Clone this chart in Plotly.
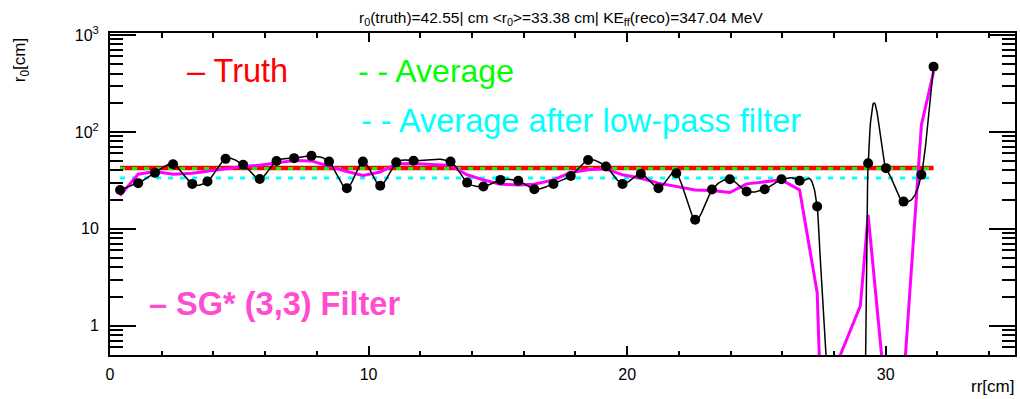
import numpy as np
import plotly.graph_objects as go

# ---------------- data ----------------
rr = [0.39, 1.09, 1.74, 2.44, 3.18, 3.77, 4.47, 5.15, 5.79, 6.44, 7.12, 7.79,
      8.47, 9.16, 9.78, 10.45, 11.07, 11.74, 13.17, 13.81, 14.44, 15.10, 15.79,
      16.41, 17.15, 17.82, 18.49, 19.18, 19.82, 20.53, 21.21, 21.90, 22.63,
      23.28, 23.97, 24.62, 25.32, 25.97, 26.67, 27.35, 27.64, 27.99, 29.02,
      29.32, 30.01, 30.69, 31.38, 31.85]
r0 = [25.2, 29.6, 37.8, 46.4, 29.1, 30.8, 52.7, 45.7, 32.7, 50.2, 53.6, 56.6,
      49.4, 26.3, 49.4, 27.9, 48.5, 50.3, 49.4, 30.0, 27.3, 32.0, 31.3,
      25.6, 29.1, 35.1, 51.4, 43.9, 29.1, 36.9, 26.3, 37.5, 12.4,
      25.5, 32.5, 24.3, 25.6, 32.5, 31.3, 17.0, 0.3, 0.01, 0.00004,
      47.5, 42.3, 19.1, 36.1, 471.0]
r0_sg = [22.0, 36.6, 39.0, 36.5, 37.5, 39.6, 41.6, 43.9, 45.2, 47.9, 50.8, 50.2,
         44.1, 39.0, 35.6, 38.5, 46.8, 47.3, 45.0, 36.1, 32.0, 28.9, 28.4,
         28.9, 32.0, 38.2, 40.8, 41.6, 36.1, 33.3, 29.6, 27.3, 25.2,
         24.8, 23.7, 29.1, 30.5, 32.0, 25.2, 2.19, 0.01, 0.34, 1.61,
         13.9, 0.17, 0.26, 118.0, 416.0]

R0_TRUTH = 42.55
R0_AVG = 42.0
R0_AVG_LP = 33.38
KE_RECO = 347.04

x_ticks = [0, 10, 20, 30]
x_minor = [2, 4, 6, 8, 12, 14, 16, 18, 22, 24, 26, 28, 32, 34]
y_ticks = [1, 10, 100, 1000]
y_ticktext = ["1", "10", "10<sup>2</sup>", "10<sup>3</sup>"]
y_minor = [0.5, 0.6, 0.7, 0.8, 0.9] + [m * 10 ** d for d in range(0, 3) for m in range(2, 10)]


# smooth curve through the points (cubic Hermite / Catmull-Rom in x, log10(y))
def smooth_curve(xs, ys, n=30):
    x = np.asarray(xs, float)
    y = np.log10(np.asarray(ys, float))
    m = np.empty_like(y)
    m[1:-1] = (y[2:] - y[:-2]) / (x[2:] - x[:-2])
    m[0] = (y[1] - y[0]) / (x[1] - x[0])
    m[-1] = (y[-1] - y[-2]) / (x[-1] - x[-2])
    cx, cy = [], []
    for i in range(len(x) - 1):
        h = x[i + 1] - x[i]
        t = np.linspace(0, 1, n, endpoint=False)
        h00 = 2 * t**3 - 3 * t**2 + 1
        h10 = t**3 - 2 * t**2 + t
        h01 = -2 * t**3 + 3 * t**2
        h11 = t**3 - t**2
        yy = h00 * y[i] + h10 * h * m[i] + h01 * y[i + 1] + h11 * h * m[i + 1]
        cx.extend(x[i] + t * h)
        cy.extend(10 ** yy)
    cx.append(x[-1])
    cy.append(10 ** y[-1])
    return cx, cy


# ---------------- layout helpers ----------------
L, R, T, B = 110, 1017, 33, 355
W, H = 1020, 399
def px(x):
    return (x - L) / (R - L)
def py(y):
    return (B - y) / (B - T)

FONT = "Liberation Sans, Arial, Helvetica, sans-serif"

fig = go.Figure()

seg_x = [rr[0], rr[-1]]
fig.add_trace(go.Scatter(x=seg_x, y=[R0_TRUTH] * 2, mode="lines",
                         line=dict(color="#ff0000", width=4.5), hoverinfo="skip"))
fig.add_trace(go.Scatter(x=seg_x, y=[R0_AVG] * 2, mode="lines",
                         line=dict(color="#00ff00", width=3, dash="5px,7px"), hoverinfo="skip"))
fig.add_trace(go.Scatter(x=seg_x, y=[R0_AVG_LP] * 2, mode="lines",
                         line=dict(color="#00ffff", width=3, dash="5px,7px"), hoverinfo="skip"))
fig.add_trace(go.Scatter(x=rr, y=r0_sg, mode="lines",
                         line=dict(color="#ff00ff", width=3)))
cx, cy = smooth_curve(rr, r0)
fig.add_trace(go.Scatter(x=cx, y=cy, mode="lines",
                         line=dict(color="black", width=1.5), hoverinfo="skip"))
fig.add_trace(go.Scatter(x=rr, y=r0, mode="markers",
                         marker=dict(color="black", size=10)))

annotations = [
    dict(text="r<sub>0</sub>(truth)=%.2f| cm &lt;r<sub>0</sub>&gt;=%.2f cm| KE<sub>ff</sub>(reco)=%.2f MeV"
         % (R0_TRUTH, R0_AVG_LP, KE_RECO),
         x=px(562), y=py(18), xanchor="center", yanchor="middle",
         font=dict(size=15.5, color="black")),
    dict(text="r<sub>0</sub>[cm]", textangle=-90, x=px(21), y=py(60),
         xanchor="center", yanchor="middle", font=dict(size=17, color="black")),
    dict(text="rr[cm]", x=px(1018), y=py(386), xanchor="right", yanchor="middle",
         font=dict(size=17, color="black")),
    dict(text="– Truth", x=px(185), y=py(71), xanchor="left", yanchor="middle",
         font=dict(size=32.5, color="#ff0000")),
    dict(text="- - Average", x=px(357), y=py(71), xanchor="left", yanchor="middle",
         font=dict(size=32, color="#00ff00")),
    dict(text="- - Average after low-pass filter", x=px(360), y=py(121), xanchor="left",
         yanchor="middle", font=dict(size=32.5, color="#00ffff")),
    dict(text="<b>– SG* (3,3) Filter</b>", x=px(147), y=py(304), xanchor="left",
         yanchor="middle", font=dict(size=32.5, color="#ff4dd2")),
]
for a in annotations:
    a.update(xref="paper", yref="paper", showarrow=False)

fig.update_layout(
    width=W, height=H,
    margin=dict(l=L, r=W - R, t=T, b=H - B, pad=0),
    paper_bgcolor="white", plot_bgcolor="white",
    showlegend=False,
    font=dict(family=FONT, color="black"),
    annotations=annotations,
    xaxis=dict(range=[0, 35], showgrid=False, zeroline=False,
               showline=True, linecolor="black", linewidth=2, mirror="ticks",
               ticks="inside", ticklen=9, tickwidth=1.5, tickcolor="black",
               tickmode="array", tickvals=x_ticks, ticktext=[str(v) for v in x_ticks],
               tickfont=dict(size=16, color="black"), ticklabelstandoff=4,
               minor=dict(tickmode="array", tickvals=x_minor, ticks="inside",
                          ticklen=4.5, tickwidth=1.5, tickcolor="black", showgrid=False)),
    yaxis=dict(type="log", range=[np.log10(0.5), 3.02], showgrid=False, zeroline=False,
               showline=True, linecolor="black", linewidth=2, mirror="ticks",
               ticks="inside", ticklen=26, tickwidth=1.5, tickcolor="black",
               tickmode="array", tickvals=y_ticks, ticktext=y_ticktext,
               tickfont=dict(size=16, color="black"), ticklabelstandoff=6,
               minor=dict(tickmode="array", tickvals=y_minor, ticks="inside",
                          ticklen=13, tickwidth=1.5, tickcolor="black", showgrid=False)),
)

fig.write_html("out.html")
